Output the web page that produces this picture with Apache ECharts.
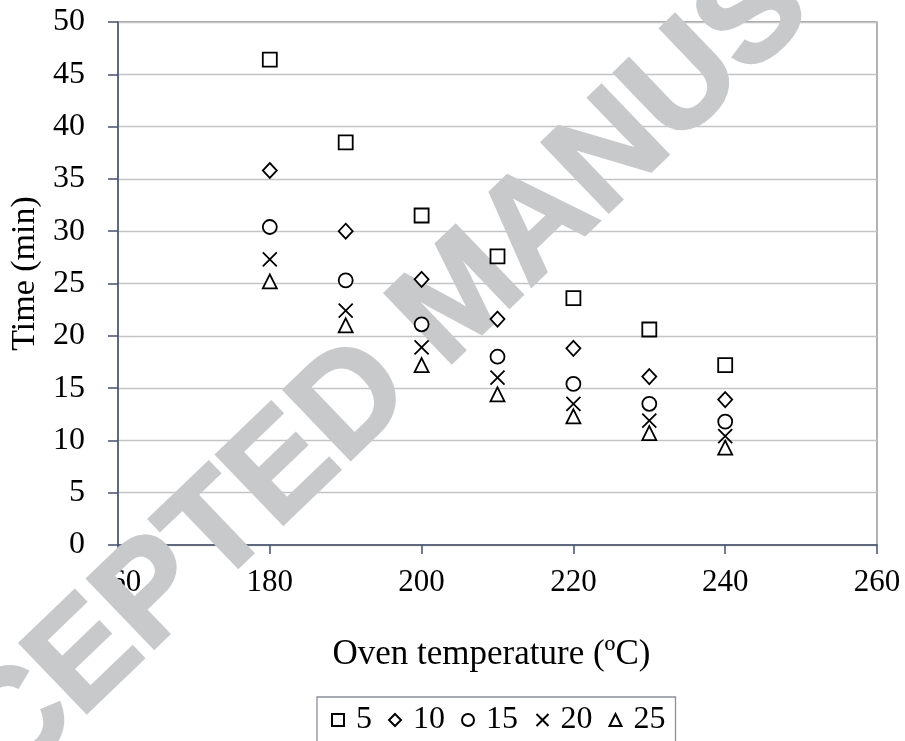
<!DOCTYPE html>
<html>
<head>
	<meta charset="utf-8" />
	<title>Oven temperature vs time</title>
	<style>
		* { margin: 0; padding: 0; }
		body { background: #fff; }
	</style>
</head>
<body>
	<div id="main" style="width:905px;height:741px;"></div>
	<script src="https://cdn.jsdelivr.net/npm/echarts@6/dist/echarts.min.js"></script>
	<script type="text/javascript">
		// oven temperatures (ºC)
		var temps = [180, 190, 200, 210, 220, 230, 240];
		// legend names
		var seriesNames = ['5', '10', '15', '20', '25'];
		// time (min) per series
		var t5 = [46.4, 38.5, 31.5, 27.6, 23.6, 20.6, 17.2];
		var t10 = [35.8, 30.0, 25.4, 21.6, 18.8, 16.1, 13.9];
		var t15 = [30.4, 25.3, 21.1, 18.0, 15.4, 13.5, 11.8];
		var t20 = [27.3, 22.4, 18.9, 16.0, 13.5, 11.9, 10.4];
		var t25 = [25.2, 21.0, 17.2, 14.4, 12.3, 10.7, 9.3];
		var values = [t5, t10, t15, t20, t25];
		var symbols = ['rect', 'diamond', 'circle', 'path://M0,0L10,10M10,0L0,10', 'triangle'];

		var serif = '"Liberation Serif", "DejaVu Serif", serif';
		var axisCol = '#44506c';

		var chart = echarts.init(document.getElementById('main'));

		var series = seriesNames.map(function (name, i) {
			return {
				name: name,
				type: 'scatter',
				symbol: symbols[i],
				symbolSize: i === 1 ? [14, 15] : 14,
				data: temps.map(function (x, j) { return [x, values[i][j]]; }),
				itemStyle: {
					color: i === 3 ? 'none' : '#fff',
					borderColor: '#000',
					borderWidth: 1.8,
					opacity: 1
				},
				z: 3
			};
		});

		var option = {
			animation: false,
			backgroundColor: '#fff',
			grid: {
				left: 118, right: 28, top: 22, bottom: 196,
				show: true, borderColor: '#8a8a8a', borderWidth: 1.3
			},
			xAxis: {
				type: 'value',
				min: 160,
				max: 260,
				interval: 20,
				name: 'Oven temperature (ºC)',
				nameLocation: 'middle',
				nameGap: 92,
				nameTextStyle: { fontFamily: serif, fontSize: 35, color: '#000', padding: [0, 12, 0, 0] },
				axisLine: { show: true, lineStyle: { color: axisCol, width: 1.5 } },
				axisTick: { show: true, length: 9, lineStyle: { color: axisCol, width: 1.5 } },
				axisLabel: { fontFamily: serif, fontSize: 31, color: '#000', margin: 22 },
				splitLine: { show: false }
			},
			yAxis: {
				type: 'value',
				min: 0,
				max: 50,
				interval: 5,
				name: 'Time (min)',
				nameLocation: 'middle',
				nameGap: 74,
				nameTextStyle: { fontFamily: serif, fontSize: 34, color: '#000', padding: [0, 0, 0, 20] },
				axisLine: { show: true, lineStyle: { color: axisCol, width: 1.5 } },
				axisTick: { show: true, length: 10, lineStyle: { color: axisCol, width: 1.5 } },
				axisLabel: { fontFamily: serif, fontSize: 32, color: '#000', margin: 33 },
				splitLine: { show: true, lineStyle: { color: '#c4c4c4', width: 1.3 } }
			},
			legend: {
				left: 317,
				top: 697,
				orient: 'horizontal',
				itemWidth: 12,
				itemHeight: 12,
				itemGap: 16,
				padding: [7, 10, 30, 14],
				borderColor: '#8a8f9c',
				borderWidth: 1.3,
				textStyle: { fontFamily: serif, fontSize: 32, color: '#000', padding: [0, 0, 0, 7] },
				data: seriesNames
			},
			// watermark over the figure
			graphic: [{
				type: 'text',
				x: 463,
				y: 298,
				rotation: 0.765,
				silent: true,
				z: 1,
				style: {
					text: 'ACCEPTED MANUSCRIPT',
					font: 'bold 140px "Liberation Sans", Arial, sans-serif',
					fill: '#c8c9cb',
					stroke: '#c8c9cb',
					lineWidth: 3,
					textAlign: 'center',
					textVerticalAlign: 'middle'
				}
			}],
			series: series
		};
		chart.setOption(option);
	</script>
</body>
</html>
